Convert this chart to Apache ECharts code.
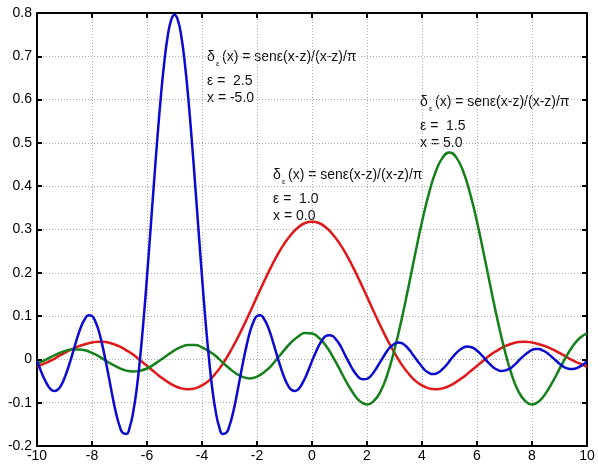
<!DOCTYPE html>
<html style="height: 100%">
<head>
    <meta charset="utf-8">
</head>
<body style="height: 100%; margin: 0; background: #fff">
    <div id="container" style="width: 598px; height: 466px"></div>
    <script type="text/javascript" src="https://cdn.jsdelivr.net/npm/echarts@6/dist/echarts.min.js"></script>
    <script type="text/javascript">
        // sample grids: x from -10 to 10
        var X_MIN = -10, X_MAX = 10;
        var redStep = 0.25, greenStep = 0.25, blueStep = 0.125;

        // eps = 1.0, z = 0
        var redY = [-0.017, -0.010, -0.003, 0.006, 0.015, 0.023, 0.030, 0.035, 0.039, 0.041, 0.040, 0.036, 0.030, 0.021, 0.011, -0.002, -0.015, -0.028, -0.041, -0.052,
            -0.061, -0.067, -0.069, -0.067, -0.060, -0.049, -0.032, -0.011, 0.015, 0.044, 0.076, 0.110, 0.145, 0.179, 0.212, 0.242, 0.268, 0.289, 0.305, 0.315,
            0.318,
            0.315, 0.305, 0.289, 0.268, 0.242, 0.212, 0.179, 0.145, 0.110, 0.076, 0.044, 0.015, -0.011, -0.032, -0.049, -0.060, -0.067, -0.069, -0.067,
            -0.061, -0.052, -0.041, -0.028, -0.015, -0.002, 0.011, 0.021, 0.030, 0.036, 0.040, 0.041, 0.039, 0.035, 0.030, 0.023, 0.015, 0.006, -0.003, -0.010, -0.017];

        // eps = 1.5, z = 5
        var greenY = [-0.010, -0.003, 0.005, 0.013, 0.019, 0.023, 0.023, 0.021, 0.015, 0.007,
            -0.003, -0.012, -0.020, -0.026, -0.028, -0.026, -0.021, -0.012, -0.001, 0.010,
            0.021, 0.029, 0.033, 0.033, 0.028, 0.019, 0.008, -0.007, -0.021, -0.033,
            -0.041, -0.044, -0.040, -0.030, -0.016, 0.003, 0.022, 0.040, 0.053, 0.061,
            0.060, 0.050, 0.032, 0.007, -0.022, -0.052, -0.078, -0.097, -0.104, -0.096,
            -0.073, -0.033, 0.023, 0.090, 0.165, 0.243, 0.318, 0.383, 0.434, 0.466, 0.478,
            0.466, 0.434, 0.383, 0.318, 0.243, 0.165, 0.090, 0.023, -0.033, -0.073,
            -0.096, -0.104, -0.097, -0.078, -0.052, -0.022, 0.007, 0.032, 0.050, 0.060];

        // eps = 2.5, z = -5
        var blueY = [-0.004, -0.024, -0.043, -0.058, -0.069, -0.073, -0.070, -0.060, -0.043, -0.021,
            0.004, 0.031, 0.057, 0.079, 0.094, 0.102, 0.100, 0.087, 0.065, 0.033,
            -0.004, -0.045, -0.087, -0.124, -0.153, -0.170, -0.172, -0.156, -0.121, -0.068,
            0.004, 0.091, 0.191, 0.297, 0.405, 0.509, 0.604, 0.684, 0.745, 0.783, 0.796,
            0.783, 0.745, 0.684, 0.604, 0.509, 0.405, 0.297, 0.191, 0.091, 0.004,
            -0.068, -0.121, -0.156, -0.172, -0.170, -0.153, -0.124, -0.087, -0.045, -0.004,
            0.033, 0.065, 0.087, 0.100, 0.102, 0.094, 0.079, 0.057, 0.031, 0.004,
            -0.021, -0.043, -0.060, -0.070, -0.073, -0.069, -0.058, -0.043, -0.024, -0.004,
            0.015, 0.032, 0.045, 0.054, 0.056, 0.054, 0.046, 0.035, 0.020, 0.004,
            -0.011, -0.025, -0.036, -0.044, -0.046, -0.045, -0.039, -0.029, -0.017, -0.004,
            0.009, 0.021, 0.030, 0.036, 0.039, 0.038, 0.033, 0.025, 0.015, 0.004,
            -0.007, -0.017, -0.026, -0.031, -0.034, -0.033, -0.029, -0.022, -0.014, -0.004,
            0.006, 0.015, 0.022, 0.027, 0.030, 0.029, 0.026, 0.020, 0.013, 0.004,
            -0.005, -0.013, -0.020, -0.024, -0.027, -0.026, -0.023, -0.019, -0.012, -0.004,
            0.004, 0.011, 0.017, 0.022, 0.024, 0.024, 0.021, 0.017, 0.011, 0.004,
            -0.003, -0.010, -0.016, -0.020, -0.022, -0.022, -0.020, -0.016, -0.011, -0.004];

        var formulaText = '(x) = sen\u03b5(x-z)/(x-z)/\u03c0';
        // annotation blocks: [left, center of first line, eps text, x text]
        var notes = [
            [207, 57, '\u03b5 =  2.5', 'x = -5.0'],
            [420, 102, '\u03b5 =  1.5', 'x = 5.0'],
            [273, 175, '\u03b5 =  1.0', 'x = 0.0']
        ];

        // pair each value with its x on a regular sampling grid
        function pairs(ys, step) {
            return ys.map(function (y, i) { return [X_MIN + i * step, y]; });
        }

        var FONT = 'Liberation Sans, Arial, sans-serif';
        var graphics = [];
        notes.forEach(function (n) {
            var st = { fill: '#111', fontSize: 14, fontFamily: FONT, textVerticalAlign: 'middle' };
            graphics.push({ type: 'text', x: n[0], y: n[1], style: Object.assign({ text: '\u03b4' }, st) });
            graphics.push({ type: 'text', x: n[0] + 9, y: n[1] + 7, style: Object.assign({}, st, { text: '\u03b5', fontSize: 8 }) });
            graphics.push({ type: 'text', x: n[0] + 15, y: n[1], style: Object.assign({ text: formulaText }, st) });
            graphics.push({ type: 'text', x: n[0], y: n[1] + 24, style: Object.assign({ text: n[2] }, st) });
            graphics.push({ type: 'text', x: n[0], y: n[1] + 41, style: Object.assign({ text: n[3] }, st) });
        });

        var frameLine = { show: true, onZero: false, lineStyle: { color: '#000', width: 2 } };
        var innerTick = { show: true, inside: true, length: 5, lineStyle: { color: '#000', width: 2 } };
        var dotted = { show: true, lineStyle: { color: '#aaa', type: [1, 2], width: 1 } };

        var myChart = echarts.init(document.getElementById('container'));
        var option = {
            animation: false,
            backgroundColor: '#fff',
            grid: { left: 37, right: 11, top: 13, bottom: 20 },
            xAxis: [
                {
                    type: 'value', min: X_MIN, max: X_MAX, interval: 2, position: 'bottom',
                    axisLine: frameLine, axisTick: innerTick, splitLine: dotted,
                    axisLabel: { color: '#000', fontSize: 14, fontFamily: FONT, margin: 3 }
                },
                {
                    type: 'value', min: X_MIN, max: X_MAX, interval: 2, position: 'top',
                    axisLine: frameLine, axisTick: innerTick, splitLine: { show: false },
                    axisLabel: { show: false }
                }
            ],
            yAxis: [
                {
                    type: 'value', min: -0.2, max: 0.8, interval: 0.1, position: 'left',
                    axisLine: frameLine, axisTick: innerTick, splitLine: dotted,
                    axisLabel: {
                        color: '#000', fontSize: 14, fontFamily: FONT, margin: 5,
                        formatter: function (v) { return Math.abs(v) < 1e-9 ? '0' : v.toFixed(1); }
                    }
                },
                {
                    type: 'value', min: -0.2, max: 0.8, interval: 0.1, position: 'right',
                    axisLine: frameLine, axisTick: innerTick, splitLine: { show: false },
                    axisLabel: { show: false }
                }
            ],
            series: [
                {
                    type: 'line', data: pairs(redY, redStep), smooth: true, showSymbol: false,
                    lineStyle: { color: '#e01818', width: 2.5 }
                },
                {
                    type: 'line', data: pairs(greenY, greenStep), smooth: true, showSymbol: false,
                    lineStyle: { color: '#14801a', width: 2.5 }
                },
                {
                    type: 'line', data: pairs(blueY, blueStep), smooth: true, showSymbol: false,
                    lineStyle: { color: '#0a0ad0', width: 2.5 }
                }
            ],
            graphic: graphics
        };

        myChart.setOption(option, true);
    </script>
</body>
</html>
